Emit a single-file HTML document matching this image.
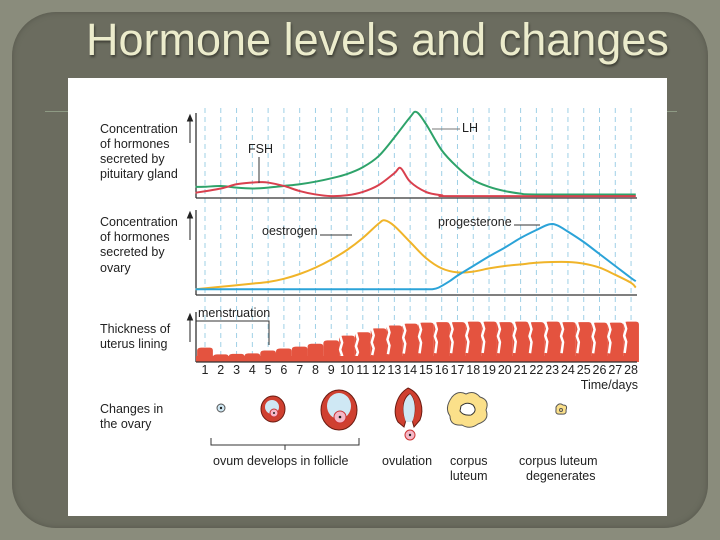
<!DOCTYPE html>
<html><head><meta charset="utf-8"><style>
body{margin:0;width:720px;height:540px;overflow:hidden;background:#8a8c7c;font-family:"Liberation Sans",sans-serif}
#panel{position:absolute;left:12px;top:12px;width:696px;height:516px;background:#6b6c5f;border-radius:44px;box-shadow:inset 0 0 6px #55564b}
#title{position:absolute;left:86px;top:14px;font-size:45px;color:#ececcc;text-shadow:1px 2px 2px #3f4036;white-space:nowrap}
.hl{position:absolute;top:111px;height:1px;background:#8e9a84}
#img{position:absolute;left:68px;top:78px;width:599px;height:438px;background:#fff}
svg{position:absolute;left:0;top:0}
text{font-family:"Liberation Sans",sans-serif;font-size:12.5px;fill:#222}
</style></head><body>
<div id="panel"></div>
<div id="title">Hormone levels and changes</div>
<div class="hl" style="left:45px;width:23px"></div>
<div class="hl" style="left:667px;width:10px"></div>
<div id="img"></div>
<svg id="chart" width="720" height="540"></svg>
<script>
const days=[1,2,3,4,5,6,7,8,9,10,11,12,13,14,15,16,17,18,19,20,21,22,23,24,25,26,27,28];
const lhDays=[0.4,1,2,3,4,5,6,7,8,9,10,11,12,13,14,14.4,15,16,17,18,19,20,21,22,28.3];
const lhValues=[12,12,13,11,10,11,13,15,18,22,27,35,48,70,94,100,86,55,35,20,12,7,4,3,3];
const fshDays=[0.4,2,3,4,4.5,5,6,7,8,9,10,11,12,13,13.4,14,15,16,17,28.3];
const fshValues=[5,10,15,17,17.5,17,13,7,3,1,2,6,14,28,34,18,6,2,1,1];
const oeDays=[0.4,2,3,4,5,6,7,8,9,10,11,12,12.4,13,14,15,16,17,18,19,20,21,22,23,24,25,26,27,28,28.3];
const oeValues=[6,9,11,13,15,19,25,33,43,55,70,88,92,85,65,45,32,27,28,32,35,37,39,40,40,38,33,24,14,8];
const prDays=[0.4,5,10,13,14,15,15.4,15.8,16.5,17,18,19,20,21,22,22.8,23.3,24,25,26,27,28,28.3];
const prValues=[6,6,6,6,6,6,6,8,16,23,35,47,58,70,80,87,86,78,65,50,35,20,16];
const liningDays=[1,2,3,4,5,6,7,8,9,10,11,12,13,14,15,16,17,18,19,20,21,22,23,24,25,26,27,28];
const liningValues=[30,16,17,18,24,28,32,38,45,55,62,70,76,80,82,83,83,84,84,83,84,83,84,83,83,82,82,84];

const svg=document.getElementById('chart');
const NS='http://www.w3.org/2000/svg';
const X0=205,DX=15.78;
const xd=d=>X0+(d-1)*DX;
function el(t,a,p){const e=document.createElementNS(NS,t);for(const k in a)e.setAttribute(k,a[k]);(p||svg).appendChild(e);return e;}
function yf(base,h){return v=>base-v/100*h;}
function smooth(ds,vs,y){const p=ds.map((d,i)=>[xd(d),y(vs[i])]);let s='M'+p[0][0]+','+p[0][1];
 for(let i=0;i<p.length-1;i++){const a=p[Math.max(0,i-1)],b=p[i],c=p[i+1],d=p[Math.min(p.length-1,i+2)];
 s+=` C${b[0]+(c[0]-a[0])/6},${b[1]+(c[1]-a[1])/6} ${c[0]-(d[0]-b[0])/6},${c[1]-(d[1]-b[1])/6} ${c[0]},${c[1]}`;}return s;}
function txt(x,y,s,name,anchor){const t=el('text',{x:x,y:y});t.textContent=s;if(anchor)t.setAttribute('text-anchor',anchor);
 
 return t;}

days.forEach(d=>{const l=el('line',{x1:xd(d),x2:xd(d),y1:108,y2:362,stroke:'#9fd0e6','stroke-width':1,'stroke-dasharray':'5,4'});
 
 });

[[113,198],[210,295],[312,362]].forEach(([t,b])=>{
 const a=el('line',{x1:196,x2:196,y1:t,y2:b,stroke:'#222','stroke-width':1.2});
 
 
 const ar=el('path',{d:`M190,${t+30} L190,${t+6} M187.5,${t+8} L190,${t+2} L192.5,${t+8}Z`,stroke:'#222',fill:'#222','stroke-width':1});
 
 
});
[198,295].forEach(b=>{const a=el('line',{x1:196,x2:637,y1:b,y2:b,stroke:'#333','stroke-width':1.3});
 
 });

const y1=yf(197,85),y2=yf(294,80);
const c1=el('path',{d:smooth(lhDays,lhValues,y1),fill:'none',stroke:'#2ea36a','stroke-width':2});


const c2=el('path',{d:smooth(fshDays,fshValues,y1),fill:'none',stroke:'#d9404e','stroke-width':2});


const c3=el('path',{d:smooth(oeDays,oeValues,y2),fill:'none',stroke:'#f0b429','stroke-width':2});


const c4=el('path',{d:smooth(prDays,prValues,y2),fill:'none',stroke:'#2ba3d8','stroke-width':2});



const yl=yf(362,48);
liningDays.forEach((d,i)=>{const v=liningValues[i];const x=xd(d)-DX/2;
 const r=el('path',{d:`M${x},362 L${x},${yl(v)+3} Q${x},${yl(v)} ${x+4},${yl(v)} L${x+DX-3},${yl(v)} Q${x+DX},${yl(v)} ${x+DX},${yl(v)+3} L${x+DX},362Z`,fill:'#e4533f'});
 
 
 if(v>50){const g=el('path',{d:`M${x+1},${yl(v)} l2,7 l-2,7 l2,6 l-1.5,${Math.max(0,(v-50)/3)}`,stroke:'#fff','stroke-width':2.5,fill:'none','stroke-linejoin':'round'});
 
 }
});
const rb=el('rect',{x:196,y:356,width:441,height:6,fill:'#e4533f'});


el('line',{x1:196,x2:637,y1:362,y2:362,stroke:'#333','stroke-width':1.3});

days.forEach(d=>txt(xd(d),374,String(d),'day-label','middle'));
txt(638,389,'Time/days','x-axis-title','end');

txt(248,153,'FSH','fsh-label');
el('line',{x1:259,x2:259,y1:157,y2:183,stroke:'#333'});
txt(462,132,'LH','lh-label');
el('line',{x1:432,x2:460,y1:129,y2:129,stroke:'#777'});
txt(262,235,'oestrogen','oestrogen-label');
el('line',{x1:320,x2:352,y1:235,y2:235,stroke:'#333'});
txt(438,226,'progesterone','progesterone-label');
el('line',{x1:514,x2:540,y1:225,y2:225,stroke:'#333'});
txt(198,317,'menstruation','menstruation-label');
el('path',{d:'M196,321 L269,321 L269,345',stroke:'#333',fill:'none'});

[[133,'Concentration'],[148,'of hormones'],[163,'secreted by'],[178,'pituitary gland'],
 [226,'Concentration'],[241,'of hormones'],[256,'secreted by'],[272,'ovary'],
 [333,'Thickness of'],[348,'uterus lining'],[413,'Changes in'],[428,'the ovary']].forEach(([y,s])=>txt(100,y,s,'row-label'));

el('circle',{cx:221,cy:408,r:4,fill:'#cfe8f4',stroke:'#555'});el('circle',{cx:221,cy:408,r:1.2,fill:'#222'});
el('ellipse',{cx:273,cy:409,rx:12,ry:13,fill:'#cf4030',stroke:'#6a1a10'});
el('ellipse',{cx:272,cy:407,rx:7,ry:7,fill:'#cfe8f4'});
el('circle',{cx:274,cy:413,r:4,fill:'#f4b8c8',stroke:'#c33'});el('circle',{cx:274,cy:413,r:1,fill:'#222'});
el('ellipse',{cx:339,cy:410,rx:18,ry:20,fill:'#cf4030',stroke:'#6a1a10'});
el('ellipse',{cx:339,cy:406,rx:12,ry:13,fill:'#cfe8f4'});
el('circle',{cx:340,cy:417,r:6,fill:'#f4b8c8',stroke:'#c33'});el('circle',{cx:340,cy:417,r:1.3,fill:'#222'});
el('path',{d:'M408,388 C396,395 392,412 398,422 L404,427 L406,420 C402,412 402,398 410,394 C416,400 416,414 412,420 L414,427 L420,420 C424,410 422,394 408,388Z',fill:'#cf4030',stroke:'#6a1a10'});
el('path',{d:'M410,394 C402,400 402,412 406,422 L412,422 C416,414 416,400 410,394Z',fill:'#cfe8f4'});
el('circle',{cx:410,cy:435,r:5,fill:'#f4b8c8',stroke:'#c33'});el('circle',{cx:410,cy:435,r:1.2,fill:'#222'});
el('path',{d:'M452,397 Q458,390 466,394 Q474,390 480,397 Q490,400 486,410 Q490,420 478,424 Q470,430 462,425 Q450,426 450,416 Q444,408 452,397Z',fill:'#fbe08a',stroke:'#555'});
el('path',{d:'M461,406 Q467,401 473,405 Q478,411 471,415 Q463,416 460,411Z',fill:'#fff',stroke:'#333'});
el('path',{d:'M556,407 Q559,402 563,405 Q568,405 566,410 Q567,415 561,414 Q555,415 556,410Z',fill:'#fbe08a',stroke:'#555'});
el('circle',{cx:561,cy:410,r:1.5,fill:'none',stroke:'#555'});
el('path',{d:'M211,438 L211,445 L359,445 L359,438 M285,445 L285,450',stroke:'#333',fill:'none'});
txt(213,465,'ovum develops in follicle','ovum-label');
txt(382,465,'ovulation','ovulation-label');
txt(450,465,'corpus','corpus-luteum-label');txt(450,480,'luteum','corpus-luteum-label');
txt(519,465,'corpus luteum','degenerates-label');txt(526,480,'degenerates','degenerates-label');
</script>
</body></html>
